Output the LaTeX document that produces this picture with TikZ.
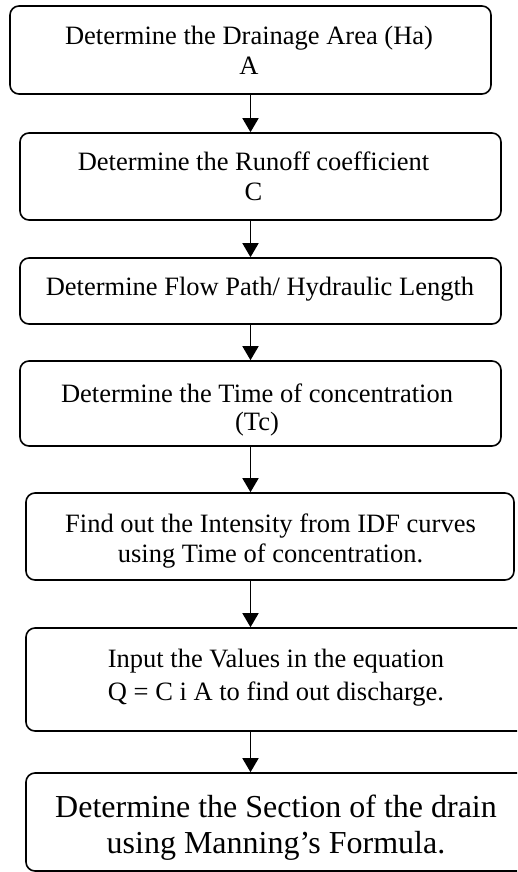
\documentclass[tikz,border=0pt]{standalone}
\usepackage{fontspec}
\setmainfont{Liberation Serif}
\usetikzlibrary{arrows.meta}
\begin{document}
\begin{tikzpicture}[x=1pt,y=-1pt,
  box/.style={draw, line width=1.6pt, rounded corners=9pt, inner sep=0pt},
  txt/.style={inner sep=0pt, anchor=base, font=\fontsize{26.5}{#1}\selectfont},
  txt/.default=30,
  bigtxt/.style={inner sep=0pt, anchor=base, font=\fontsize{32}{36}\selectfont},
  arr/.style={line width=1.6pt, -{Triangle[width=16pt,length=14pt]}}]
\path[use as bounding box] (0,0) rectangle (517,872);
\clip (0,0) rectangle (517,872);
% boxes
\node[box, minimum width=481pt, minimum height=88pt]  (b1) at (250.5,50) {};
\node[box, minimum width=481pt, minimum height=87pt]  (b2) at (260.5,176.5) {};
\node[box, minimum width=481pt, minimum height=66pt]  (b3) at (260.5,291) {};
\node[box, minimum width=481pt, minimum height=85pt]  (b4) at (260.5,403.5) {};
\node[box, minimum width=488pt, minimum height=87pt]  (b5) at (270,536.5) {};
\node[box, minimum width=504pt, minimum height=103pt] (b6) at (278,679.5) {};
\node[box, minimum width=504pt, minimum height=98pt]  (b7) at (278,822) {};
% texts
\node[txt] (t1) at (249,45) {\begin{tabular}[t]{@{}c@{}}Determine the Drainage Area (Ha)\\A\end{tabular}};
\node[txt] (t2) at (253.5,170) {\begin{tabular}[t]{@{}c@{}}Determine the Runoff coefficient\\C\end{tabular}};
\node[txt] (t3) at (260,295) {Determine Flow Path/ Hydraulic Length};
\node[txt=28] (t4) at (257,402) {\begin{tabular}[t]{@{}c@{}}Determine the Time of concentration\\(Tc)\end{tabular}};
\node[txt] (t5) at (270.5,532) {\begin{tabular}[t]{@{}c@{}}Find out the Intensity from IDF curves\\using Time of concentration.\end{tabular}};
\node[txt=33] (t6) at (276,667) {\begin{tabular}[t]{@{}c@{}}Input the Values in the equation\\Q = C i A to find out discharge.\end{tabular}};
\node[bigtxt] (t7) at (276,817) {\begin{tabular}[t]{@{}c@{}}Determine the Section of the drain\\using Manning’s Formula.\end{tabular}};
% connectors
\coordinate (ax) at (250.5,0);
\draw[arr] (b1.south -| ax) -- (b2.north -| ax);
\draw[arr] (b2.south -| ax) -- (b3.north -| ax);
\draw[arr] (b3.south -| ax) -- (b4.north -| ax);
\draw[arr] (b4.south -| ax) -- (b5.north -| ax);
\draw[arr] (b5.south -| ax) -- (b6.north -| ax);
\draw[arr] (b6.south -| ax) -- (b7.north -| ax);
\end{tikzpicture}
\end{document}
